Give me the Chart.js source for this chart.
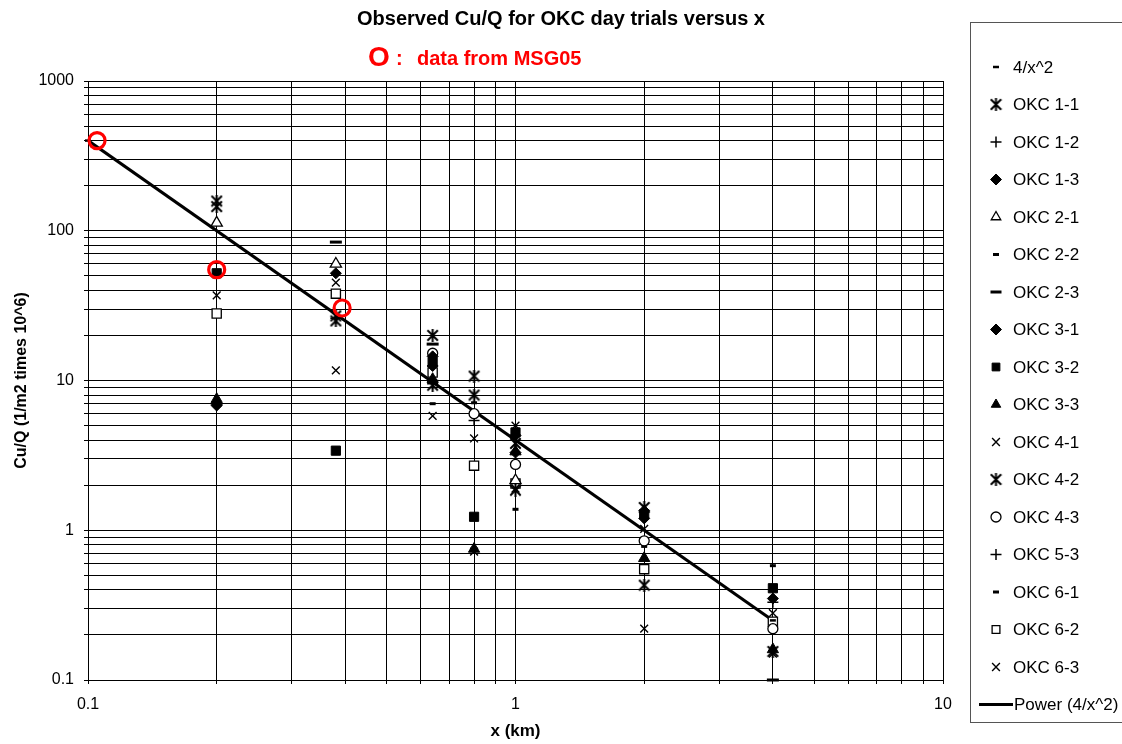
<!DOCTYPE html>
<html><head><meta charset="utf-8">
<script src="https://cdn.jsdelivr.net/npm/chart.js@4/dist/chart.umd.min.js"></script>
<style>html,body{margin:0;padding:0;background:#fff}#wrap{width:1122px;height:744px;position:relative}</style>
</head><body><div id="wrap"><canvas id="c"></canvas></div>
<script>
// ---- data ----
const xKm = [0.2, 0.38, 0.64, 0.8, 1, 2, 4];
const okc11 = [158, 25, 20, 10.7, 3.8, 1.42, 0.155];
const okc12 = [null, 26, null, null, null, null, null];
const okc13 = [6.9, 52, 14.5, null, 4.3, 1.35, 0.35];
const okc21 = [113, 60, null, null, 2.15, null, null];
const okc22 = [null, null, null, 7.1, null, null, 0.58];
const okc23 = [null, 84, 17.5, null, null, null, 0.1];
const okc31 = [6.8, null, 12.5, null, 3.3, 1.2, null];
const okc32 = [52, 3.4, 13.3, 1.23, 4.5, 1.28, 0.41];
const okc33 = [7.5, null, 10.2, 0.75, 3.35, 0.65, 0.16];
const okc41 = [37, 45, 5.8, 4.1, 1.9, 1.02, 0.28];
const okc42 = [145, 27, 9.3, 8.0, 1.85, 0.43, null];
const okc43 = [null, null, 15.2, 6.0, 2.75, 0.85, 0.22];
const okc53 = [null, null, 9.5, 5.4, null, null, 0.33];
const okc61 = [null, null, 7.0, null, 1.38, 0.78, null];
const okc62 = [28, 38, 11.3, 2.7, 2.05, 0.55, 0.245];
const okc63 = [null, 11.7, null, 0.72, 5.0, 0.22, 0.15];
const fitX = [0.1, 4];
const fitY = [400, 0.25];
const msgX = [0.105, 0.2, 0.393];
const msgY = [400, 55, 30.5];
const xGridTicks = [0.1,0.2,0.3,0.4,0.5,0.6,0.7,0.8,0.9,1,2,3,4,5,6,7,8,9,10];
const yGridTicks = [0.1,0.2,0.3,0.4,0.5,0.6,0.7,0.8,0.9,1,2,3,4,5,6,7,8,9,10,20,30,40,50,60,70,80,90,100,200,300,400,500,600,700,800,900,1000];
const xTickLabels = ['0.1','1','10'];
const yTickLabels = ['0.1','1','10','100','1000'];

// asterisk marker (x with vertical bar)
function makeAsterisk(){
  const c=document.createElement('canvas'); c.width=13; c.height=13;
  const g=c.getContext('2d'); g.strokeStyle='#000'; g.lineWidth=2; g.lineCap='square';
  g.beginPath(); g.moveTo(2,2); g.lineTo(11,11); g.moveTo(11,2); g.lineTo(2,11);
  g.moveTo(6.5,1); g.lineTo(6.5,12); g.stroke();
  return c;
}
const ast = makeAsterisk();

function pts(arr){ return xKm.map((x,i)=>arr[i]==null?null:{x:x,y:arr[i]}).filter(Boolean); }
function ptsXY(xs,ys){ return xs.map((x,i)=>({x:x,y:ys[i]})); }

const B='#000', W='#fff';
function ser(label, arr, style, fill, r, bw){
  return {label:label, data:pts(arr), pointStyle:style, backgroundColor:fill, borderColor:B,
    pointRadius:r, pointHoverRadius:r, pointBorderWidth:bw, showLine:false, clip:false};
}
const datasets = [
  {label:'MSG05', data:ptsXY(msgX,msgY), pointStyle:'circle', backgroundColor:'rgba(0,0,0,0)', borderColor:'#ff0000', pointRadius:8, pointBorderWidth:3.2, showLine:false, clip:false, legendHide:true},
  {label:'4/x^2', data:ptsXY(fitX,fitY), pointStyle:'line', backgroundColor:B, borderColor:B, pointRadius:3, pointBorderWidth:2.5, showLine:false, clip:false},
  ser('OKC 1-1', okc11, ast, B, 6, 1),
  ser('OKC 1-2', okc12, 'cross', B, 5.5, 1.5),
  ser('OKC 1-3', okc13, 'rectRot', B, 5.5, 1),
  ser('OKC 2-1', okc21, 'triangle', W, 6.5, 1.3),
  ser('OKC 2-2', okc22, 'line', B, 3, 3),
  ser('OKC 2-3', okc23, 'line', B, 6, 3),
  ser('OKC 3-1', okc31, 'rectRot', B, 5.5, 1),
  ser('OKC 3-2', okc32, 'rect', B, 6.5, 1),
  ser('OKC 3-3', okc33, 'triangle', B, 6.5, 1),
  ser('OKC 4-1', okc41, 'crossRot', B, 5.5, 1.4),
  ser('OKC 4-2', okc42, ast, B, 6, 1),
  ser('OKC 4-3', okc43, 'circle', W, 5, 1.3),
  ser('OKC 5-3', okc53, 'cross', B, 5.5, 1.5),
  ser('OKC 6-1', okc61, 'line', B, 3, 3),
  ser('OKC 6-2', okc62, 'rect', W, 6.5, 1.3),
  ser('OKC 6-3', okc63, 'crossRot', B, 5.5, 1.4),
  {label:'Power (4/x^2)', data:ptsXY(fitX,fitY), borderColor:B, backgroundColor:B, borderWidth:3, pointRadius:0, showLine:true, isLine:true}
];

const FONT = "'Liberation Sans', Arial, sans-serif";

const decor = {
  id:'decor',
  afterDraw(chart){
    const ctx=chart.ctx; ctx.save();
    // title
    ctx.fillStyle='#000'; ctx.font='bold 20px '+FONT; ctx.textAlign='center'; ctx.textBaseline='middle';
    ctx.fillText('Observed Cu/Q for OKC day trials versus x', 561, 19);
    // red subtitle
    ctx.fillStyle='#ff0000'; ctx.textAlign='left';
    ctx.font='bold 28px '+FONT; ctx.fillText('O', 368, 58);
    ctx.font='bold 20px '+FONT; ctx.fillText(':', 396, 59);
    ctx.fillText('data from MSG05', 417, 59);
    // legend
    ctx.strokeStyle='#555'; ctx.lineWidth=1;
    ctx.strokeRect(970.5, 22.5, 160, 700);
    ctx.font='17px '+FONT; ctx.textBaseline='middle';
    let i=0;
    chart.data.datasets.forEach(ds=>{
      if(ds.legendHide) return;
      const y = 67 + i*37.5;
      if(ds.isLine){
        ctx.strokeStyle='#000'; ctx.lineWidth=3; ctx.beginPath(); ctx.moveTo(979,y); ctx.lineTo(1013,y); ctx.stroke();
        ctx.fillStyle='#000'; ctx.fillText(ds.label, 1014, y+1);
      } else {
        ctx.fillStyle=ds.backgroundColor; ctx.strokeStyle=ds.borderColor; ctx.lineWidth=ds.pointBorderWidth;
        Chart.helpers.drawPoint(ctx, {pointStyle:ds.pointStyle, radius:Math.min(ds.pointRadius,5.5), rotation:0, borderWidth:ds.pointBorderWidth}, 996, y);
        ctx.fillStyle='#000'; ctx.fillText(ds.label, 1013, y+1);
      }
      i++;
    });
    ctx.restore();
  }
};

new Chart(document.getElementById('c'), {
  type:'scatter',
  data:{datasets:datasets},
  options:{
    responsive:true, maintainAspectRatio:false, animation:false,
    layout:{padding:{top:81, right:179, left:4, bottom:0}},
    plugins:{legend:{display:false}, title:{display:false}, tooltip:{enabled:false}},
    scales:{
      x:{type:'logarithmic', min:0.1, max:10,
        afterBuildTicks(s){ s.ticks = xGridTicks.map(v=>({value:v})); },
        afterFit(s){ s.height = 64; },
        ticks:{autoSkip:false, maxRotation:0, padding:11, color:'#000', font:{family:FONT, size:16},
          callback(v){ const l=String(+v.toPrecision(3)); return xTickLabels.includes(l)?l:''; }},
        grid:{color:'#000', lineWidth:1, tickLength:4},
        border:{color:'#000', width:1},
        title:{display:true, text:'x (km)', color:'#000', font:{family:FONT, size:17, weight:'bold'}, padding:{top:2,bottom:2}}
      },
      y:{type:'logarithmic', min:0.1, max:1000,
        afterBuildTicks(s){ s.ticks = yGridTicks.map(v=>({value:v})); },
        afterFit(s){ s.width = 84; },
        ticks:{autoSkip:false, padding:10, color:'#000', font:{family:FONT, size:16},
          callback(v){ const l=String(+v.toPrecision(3)); return yTickLabels.includes(l)?l:''; }},
        grid:{color:'#000', lineWidth:1, tickLength:4},
        border:{color:'#000', width:1},
        title:{display:true, text:'Cu/Q (1/m2 times 10^6)', color:'#000', font:{family:FONT, size:16, weight:'bold'}, padding:{top:8,bottom:4}}
      }
    }
  },
  plugins:[decor]
});
</script></body></html>
